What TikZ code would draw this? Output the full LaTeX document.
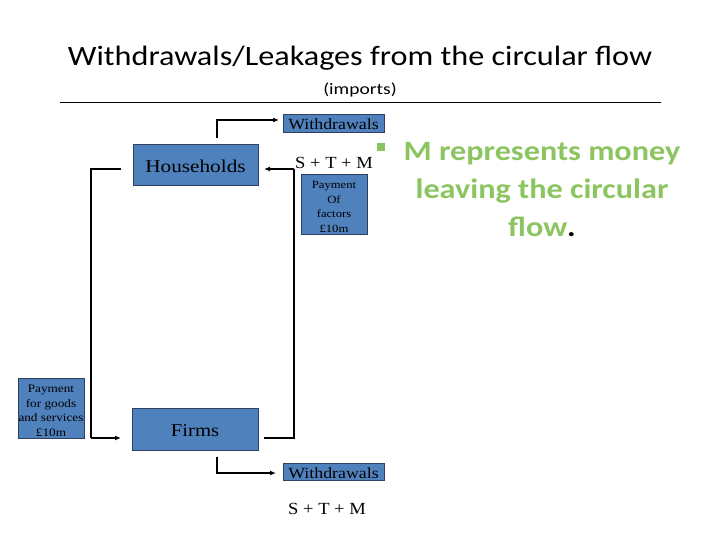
\documentclass[tikz,border=0pt]{standalone}
\usepackage{fontspec}
\setmainfont{Liberation Serif}
\newfontfamily\carlitofont{Carlito}
\usetikzlibrary{arrows.meta}
\definecolor{boxblue}{HTML}{4F81BD}
\definecolor{boxedge}{HTML}{2F3F5F}
\definecolor{leafgreen}{HTML}{8CC560}
\newcommand\hx[3][1.15]{\raisebox{-3.5pt}[\height][\depth]{\scalebox{#1}[1]{#2\begin{tabular}{@{}c@{}}#3\end{tabular}}}}
\begin{document}
\begin{tikzpicture}[x=1pt,y=-1pt,
  bluebox/.style={draw=boxedge,fill=boxblue,line width=0.8pt,inner sep=0pt,align=center},
  flow/.style={line width=1.2pt},
  flowarrow/.style={line width=1.6pt,-{Latex[length=6pt,width=5pt]}}]
\useasboundingbox (0,0) rectangle (720,540);
% title
\node (title) at (360,56) {\hx{\carlitofont\fontsize{28}{32}\selectfont}{Withdrawals/Leakages from the circular flow}};
\node (sub) at (360,87) {\hx[1.22]{\carlitofont\fontsize{16}{19}\selectfont}{(imports)}};
\coordinate (rl) at (60,102);
\coordinate (rr) at (661,102);
\draw[line width=0.8pt] (rl) -- (rr);
% boxes
\node[bluebox,minimum width=125pt,minimum height=41pt] (hh) at (195.5,165) {\hx[1.18]{\fontsize{18}{20}\selectfont}{Households}};
\node[bluebox,minimum width=126pt,minimum height=42pt] (firms) at (195,429) {\hx{\fontsize{18}{20}\selectfont}{Firms}};
\node[bluebox,minimum width=101pt,minimum height=18pt] (w1) at (333.5,123) {\hx{\fontsize{15.5}{17}\selectfont}{Withdrawals}};
\node[bluebox,minimum width=101pt,minimum height=17pt] (w2) at (333.5,471.5) {\hx{\fontsize{15.5}{17}\selectfont}{Withdrawals}};
\node[bluebox,minimum width=66pt,minimum height=60pt] (pf) at (334,204) {\hx{\fontsize{11}{14.5}\selectfont}{Payment\\Of\\factors\\£10m}};
\node[bluebox,minimum width=66pt,minimum height=60pt] (pg) at (51,408) {\hx{\fontsize{11.5}{14.5}\selectfont}{Payment\\for goods\\and services\\£10m}};
\node (stm1) at (334,161) {\hx[1.09]{\fontsize{17}{20}\selectfont}{S + T + M}};
\node (stm2) at (327,507) {\hx[1.09]{\fontsize{17}{20}\selectfont}{S + T + M}};
% green bullet text
\node[fill=leafgreen,minimum size=8pt,inner sep=0pt] (bul) at (380.5,147) {};
\node[text=leafgreen] (note) at (542,187) {\hx{\carlitofont\bfseries\fontsize{28}{38}\selectfont}{M represents money\\leaving the circular\\flow\textcolor{black}{.}}};
% loop
\coordinate (tl) at (91,169);
\coordinate (tlr) at (121,169);
\coordinate (bl) at (91,438);
\coordinate (blr) at (121,438);
\coordinate (tr) at (294,169);
\coordinate (trl) at (264,169);
\coordinate (br) at (294,438);
\coordinate (brl) at (264,438);
\draw[flow] (tlr) -- (tl) -- (bl);
\draw[flowarrow] (bl) -- (blr);
\draw[flow] (brl) -- (br) -- (tr);
\draw[flowarrow] (tr) -- (trl);
% withdrawal arrows
\coordinate (h1) at (217,138);
\coordinate (h2) at (217,120);
\coordinate (h3) at (279,120);
\draw[flowarrow] (h1) -- (h2) -- (h3);
\coordinate (f1) at (217,457);
\coordinate (f2) at (217,473);
\coordinate (f3) at (276,473);
\draw[flowarrow] (f1) -- (f2) -- (f3);
\end{tikzpicture}
\end{document}
